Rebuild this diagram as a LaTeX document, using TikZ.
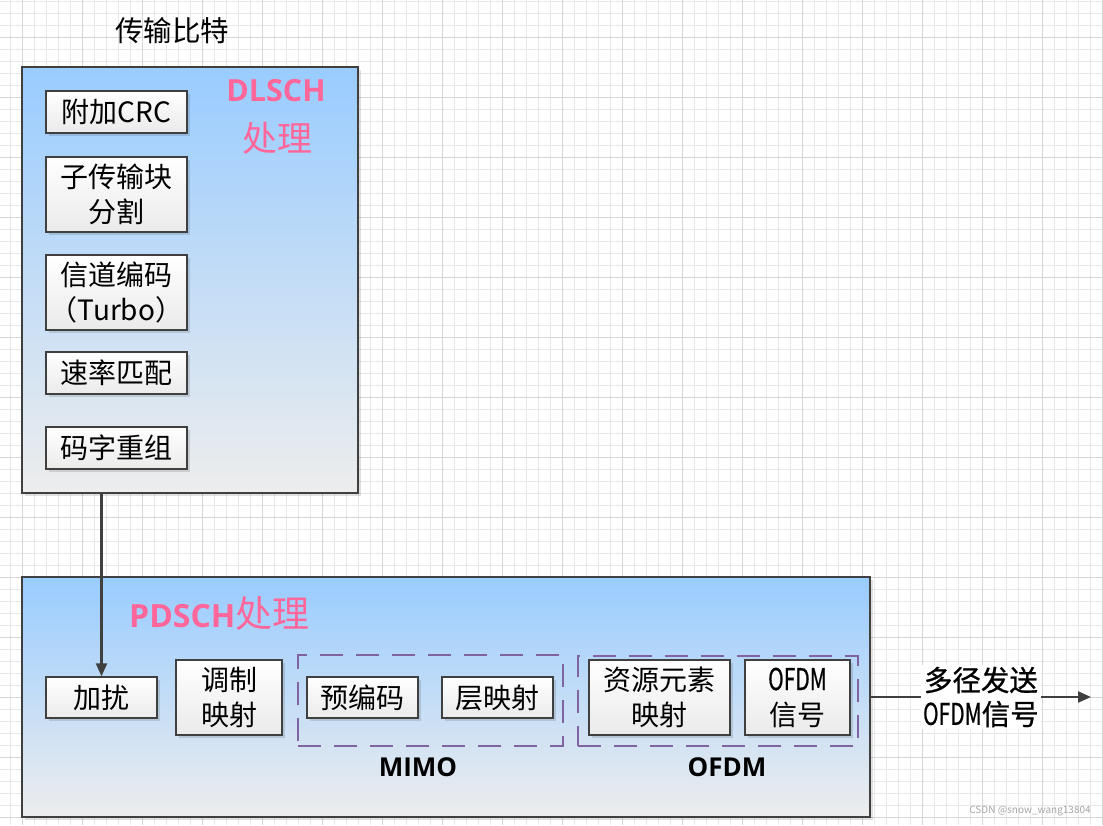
\documentclass[tikz,border=0pt]{standalone}
\usepackage{fontspec}
\setmainfont{Noto Sans CJK SC}
\newfontfamily\narrowf[FakeStretch=0.7,FakeBold=0.6]{Noto Sans CJK SC}
\newfontfamily\cjkmed[FakeBold=0.9]{Noto Sans CJK SC}
\newfontfamily\opens{Open Sans}
\usetikzlibrary{arrows.meta,shadows}
\definecolor{gridminor}{RGB}{232,232,232}
\definecolor{gridmajor}{RGB}{214,214,214}
\definecolor{edgec}{RGB}{64,64,64}
\definecolor{sky}{RGB}{153,204,255}
\definecolor{pale}{RGB}{237,237,237}
\definecolor{pinkt}{RGB}{255,102,153}
\definecolor{grpc}{RGB}{128,100,162}
\definecolor{boxbot}{RGB}{234,234,234}
\tikzset{
  panel/.style={draw=edgec,line width=1.6pt,top color=sky,bottom color=pale,inner sep=0,
    drop shadow={shadow xshift=3pt,shadow yshift=-3pt,fill=black,opacity=0.12}},
  stepbox/.style={draw=edgec,line width=1.3pt,top color=white,bottom color=boxbot,inner sep=0,
    align=center,font=\fontsize{28}{35}\selectfont,
    drop shadow={shadow xshift=3pt,shadow yshift=-3pt,fill=black,opacity=0.12}},
  grp/.style={draw=grpc,line width=2.4pt,dash pattern=on 23pt off 13pt},
  arr/.style={draw=edgec,line width=2.2pt,-{Triangle[length=13pt,width=11pt]}},
  pinklatin/.style={text=pinkt,inner sep=0,font=\opens\bfseries\fontsize{30.5}{36}\selectfont},
  pinkcjk/.style={text=pinkt,inner sep=0,font=\fontsize{35}{40}\selectfont},
  grplabel/.style={inner sep=0,font=\opens\bfseries\fontsize{26}{30}\selectfont},
}
\begin{document}
\begin{tikzpicture}[x=1pt,y=-1pt]
\useasboundingbox (0,0) rectangle (1103,825);
\fill[white] (0,0) rectangle (1103,825);
% grid
\foreach \x in {10,22,...,1102} \draw[gridminor,line width=1pt] (\x,0) -- (\x,825);
\foreach \y in {1,13,...,825} \draw[gridminor,line width=1pt] (0,\y) -- (1103,\y);
\foreach \x in {22,82,...,1102} \draw[gridmajor,line width=1pt] (\x,0) -- (\x,825);
\foreach \y in {37,97,...,825} \draw[gridmajor,line width=1pt] (0,\y) -- (1103,\y);

% title
\node[inner sep=0,font=\fontsize{28.5}{32}\selectfont] (title) at (172,31) {传输比特};

% DLSCH panel
\node[panel,minimum width=336pt,minimum height=426pt] (dl) at (190,280) {};
\node[pinklatin] (dlt) at (276,91) {DLSCH};
\node[pinkcjk] (dlt2) at (277,138) {处理};

\node[stepbox,minimum width=141pt,minimum height=42pt] (crc) at (116.5,112) {附加CRC};
\node[stepbox,minimum width=141pt,minimum height=75pt] (seg) at (116.5,194.5) {子传输块\\分割};
\node[stepbox,minimum width=141pt,minimum height=75pt] (enc) at (116.5,292.5) {信道编码\\（Turbo）};
\node[stepbox,minimum width=141pt,minimum height=42pt] (rm) at (116.5,373) {速率匹配};
\node[stepbox,minimum width=141pt,minimum height=42pt] (cw) at (116.5,448) {码字重组};

% PDSCH panel
\node[panel,minimum width=848pt,minimum height=240pt] (pd) at (446,697) {};
\node[anchor=west,text=pinkt,inner sep=0] (pdt) at (129,613)
  {{\opens\bfseries\fontsize{32}{36}\selectfont PDSCH}{\fontsize{37}{40}\selectfont 处理}};

\node[stepbox,minimum width=111pt,minimum height=41pt] (scr) at (101.5,697.5) {加扰};
\node[stepbox,minimum width=106pt,minimum height=75pt] (mod) at (229,697.5) {调制\\映射};

\node[grp,minimum width=265pt,minimum height=91pt,inner sep=0] (mimo) at (430.5,700.5) {};
\node[stepbox,minimum width=111pt,minimum height=41pt] (pre) at (362.5,697.5) {预编码};
\node[stepbox,minimum width=111pt,minimum height=41pt] (lay) at (497.5,697.5) {层映射};
\node[grplabel] (mimol) at (418,767) {MIMO};

\node[grp,minimum width=280pt,minimum height=90pt,inner sep=0] (ofdm) at (718,701) {};
\node[stepbox,minimum width=141pt,minimum height=75pt] (re) at (659.5,697.5) {资源元素\\映射};
\node[stepbox,minimum width=105pt,minimum height=75pt] (sig) at (797.5,697.5) {{\narrowf\fontsize{30}{35}\selectfont OFDM}\\信号};
\node[grplabel] (ofdml) at (727,767) {OFDM};

% connectors
\draw[arr] (scr.north |- dl.south) -- (scr.north);
\coordinate (out) at (1091,697);
\draw[arr] (pd.east |- out) -- node[fill=white,inner sep=2pt,align=center,
  font=\cjkmed\fontsize{28.5}{34}\selectfont] (outl) {多径发送\\{\narrowf\fontsize{30}{34}\selectfont OFDM}信号} (out);

% watermark
\node[inner sep=0,text=black!35,font=\fontsize{10}{12}\selectfont] (wm) at (1030,811) {CSDN @snow\_wang13804};
\end{tikzpicture}
\end{document}
